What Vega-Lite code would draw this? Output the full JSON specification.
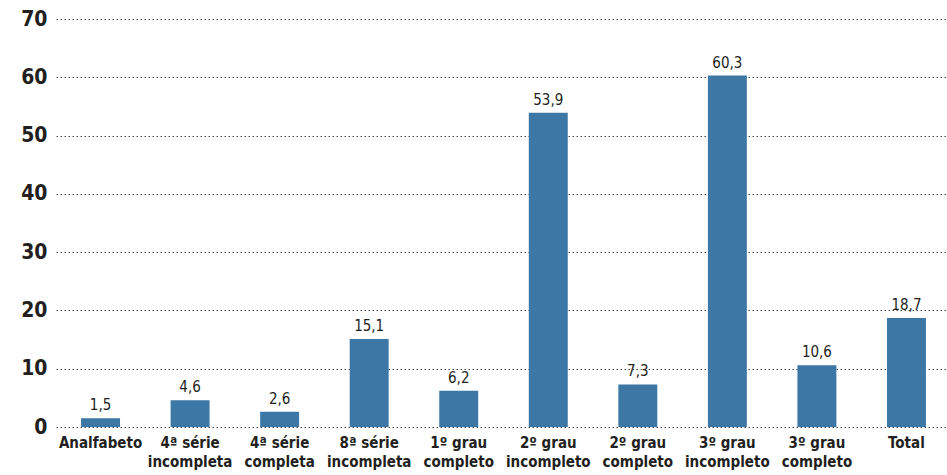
{
  "$schema": "https://vega.github.io/schema/vega-lite/v6.json",
  "autosize": "none",
  "width": 895,
  "height": 408,
  "padding": {"left": 56, "top": 19, "right": 0, "bottom": 48},
  "background": "white",
  "config": {
    "locale": {"number": {"decimal": ",", "thousands": ".", "grouping": [3], "currency": ["", ""]}},
    "view": {"stroke": null},
    "font": "DejaVu Sans Condensed, Roboto, sans-serif"
  },
  "data": {
    "values": [
      {"cat": "Analfabeto", "v": 1.5},
      {"cat": "4ª série|incompleta", "v": 4.6},
      {"cat": "4ª série|completa", "v": 2.6},
      {"cat": "8ª série|incompleta", "v": 15.1},
      {"cat": "1º grau|completo", "v": 6.2},
      {"cat": "2º grau|incompleto", "v": 53.9},
      {"cat": "2º grau|completo", "v": 7.3},
      {"cat": "3º grau|incompleto", "v": 60.3},
      {"cat": "3º grau|completo", "v": 10.6},
      {"cat": "Total", "v": 18.7}
    ]
  },
  "encoding": {
    "x": {
      "field": "cat", "type": "nominal", "sort": null,
      "scale": {"paddingInner": 0.565, "paddingOuter": 0.28},
      "axis": {
        "title": null, "labelAngle": 0, "domain": false, "ticks": false,
        "labelExpr": "split(datum.label, '|')",
        "labelFont": "DejaVu Sans Condensed, Roboto, sans-serif", "labelFontWeight": "bold",
        "labelFontSize": 15, "labelColor": "#231f20", "labelPadding": 8,
        "labelLineHeight": 19, "labelBaseline": "top"
      }
    },
    "y": {
      "field": "v", "type": "quantitative",
      "scale": {"domain": [0, 70], "nice": false},
      "axis": {
        "title": null, "values": [0, 10, 20, 30, 40, 50, 60, 70],
        "domain": false, "ticks": false,
        "labelFont": "DejaVu Sans Condensed, Roboto, sans-serif", "labelFontWeight": "bold",
        "labelFontSize": 21, "labelColor": "#231f20", "labelPadding": 9,
        "grid": true, "gridDash": [1.5, 2.5], "gridColor": "#4a4a4a", "gridWidth": 1.2
      }
    }
  },
  "layer": [
    {"mark": {"type": "bar", "color": "#3c77a6"}},
    {
      "mark": {"type": "text", "baseline": "bottom", "dy": -5, "fontSize": 15, "color": "#231f20", "font": "DejaVu Sans Condensed, Roboto, sans-serif"},
      "encoding": {"text": {"field": "v", "type": "quantitative", "format": ".1f"}}
    }
  ]
}
